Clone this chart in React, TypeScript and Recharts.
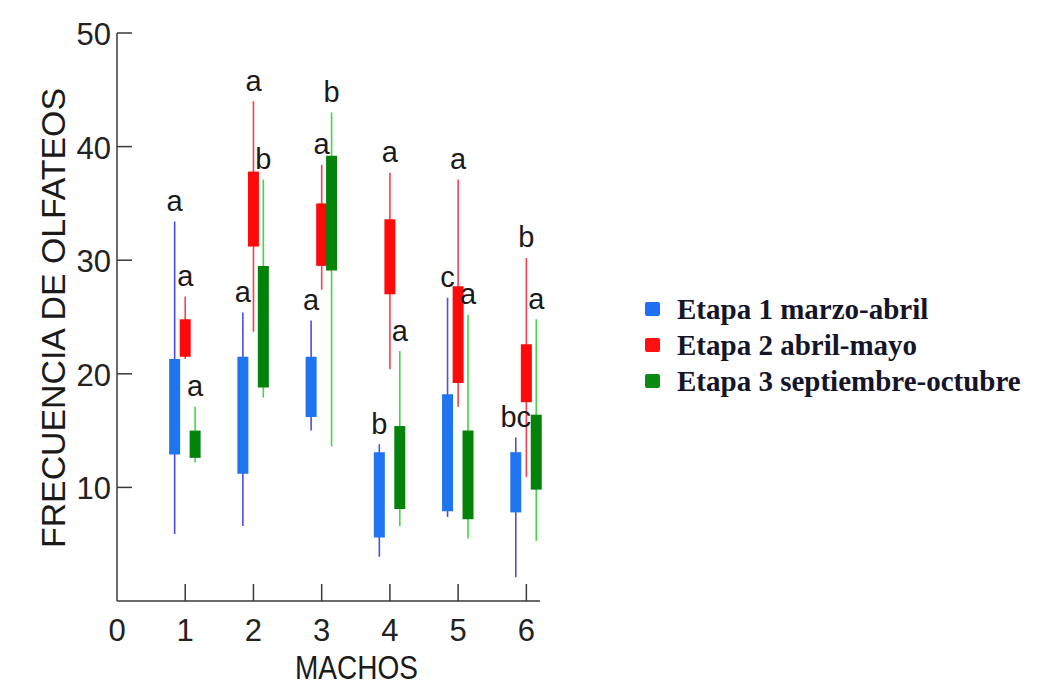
import React from 'react';
import { ScatterChart, Scatter, XAxis, YAxis, ErrorBar, LabelList } from 'recharts';

const MACHOS = [1, 2, 3, 4, 5, 6];
const X_TICKS = [0, 1, 2, 3, 4, 5, 6];
const Y_TICKS = [10, 20, 30, 40, 50];

// Etapa 1 marzo-abril
const E1_MIN = [5.9, 6.6, 15.0, 3.9, 7.4, 2.1];
const E1_Q1 = [12.9, 11.2, 16.2, 5.6, 7.9, 7.8];
const E1_Q3 = [21.3, 21.5, 21.5, 13.1, 18.2, 13.1];
const E1_MAX = [33.4, 25.4, 24.7, 13.8, 26.7, 14.4];
const E1_LETTERS = ['a', 'a', 'a', 'b', 'c', 'bc'];

// Etapa 2 abril-mayo
const E2_MIN = [21.3, 23.7, 27.4, 20.4, 17.1, 10.9];
const E2_Q1 = [21.5, 31.2, 29.5, 27.0, 19.2, 17.5];
const E2_Q3 = [24.8, 37.8, 35.0, 33.6, 27.7, 22.6];
const E2_MAX = [26.8, 44.0, 38.4, 37.7, 37.1, 30.2];
const E2_LETTERS = ['a', 'a', 'a', 'a', 'a', 'b'];

// Etapa 3 septiembre-octubre
const E3_MIN = [12.2, 17.9, 13.6, 6.6, 5.5, 5.3];
const E3_Q1 = [12.6, 18.8, 29.1, 8.1, 7.2, 9.8];
const E3_Q3 = [15.0, 29.5, 39.2, 15.4, 15.0, 16.4];
const E3_MAX = [17.1, 37.1, 43.0, 22.0, 25.2, 24.8];
const E3_LETTERS = ['a', 'b', 'b', 'a', 'a', 'a'];

const SERIES = [
  { name: 'Etapa 1 marzo-abril', min: E1_MIN, q1: E1_Q1, q3: E1_Q3, max: E1_MAX, letters: E1_LETTERS, shift: -0.155, box: '#1f74f0', whisker: '#4b4bf2', legend: '#1f6ff5' },
  { name: 'Etapa 2 abril-mayo', min: E2_MIN, q1: E2_Q1, q3: E2_Q3, max: E2_MAX, letters: E2_LETTERS, shift: 0, box: '#ff0a0a', whisker: '#ff3b4e', legend: '#ff1010' },
  { name: 'Etapa 3 septiembre-octubre', min: E3_MIN, q1: E3_Q1, q3: E3_Q3, max: E3_MAX, letters: E3_LETTERS, shift: 0.145, box: '#04830a', whisker: '#45d645', legend: '#0a8a12' },
];

const SANS = '"Liberation Sans", Arial, sans-serif';
const AXIS = '#3a3a3a';

const Empty = () => <g />;

const YTick = (props: any) => {
  const { x, y, payload } = props;
  return (
    <g>
      <line x1={x} x2={x + 15} y1={y} y2={y} stroke={AXIS} strokeWidth={1.5} />
      <text x={x - 6} y={y + 12} textAnchor="end" fontSize={31} fontFamily={SANS} fill="#222">
        {payload.value}
      </text>
    </g>
  );
};

const XTick = (props: any) => {
  const { x, y, payload } = props;
  return (
    <g>
      {payload.value > 0 && <line x1={x} x2={x} y1={y} y2={y - 17} stroke={AXIS} strokeWidth={1.5} />}
      <text x={x} y={y + 40} textAnchor="middle" fontSize={31} fontFamily={SANS} fill="#222">
        {payload.value}
      </text>
    </g>
  );
};

const YTitle = (props: any) => {
  const vb = props.viewBox || { x: 37, y: 33, width: 80, height: 568 };
  const cx = vb.x + 28;
  const cy = vb.y + vb.height / 2 + 1;
  return (
    <text
      x={cx}
      y={cy}
      transform={`rotate(-90, ${cx}, ${cy})`}
      textAnchor="middle"
      fontSize={34}
      fontFamily={SANS}
      fill="#1a1a1a"
      textLength={460}
      lengthAdjust="spacingAndGlyphs"
    >
      FRECUENCIA DE OLFATEOS
    </text>
  );
};

const XTitle = (props: any) => {
  const vb = props.viewBox || { x: 117, y: 601, width: 423, height: 60 };
  return (
    <text
      x={vb.x + vb.width / 2 + 28}
      y={vb.y + 78}
      textAnchor="middle"
      fontSize={34}
      fontFamily={SANS}
      fill="#1a1a1a"
      textLength={123}
      lengthAdjust="spacingAndGlyphs"
    >
      MACHOS
    </text>
  );
};

const LegendBox = () => (
  <div
    style={{
      position: 'absolute',
      left: 645,
      top: 291,
      fontFamily: '"Liberation Serif", "Times New Roman", serif',
      fontWeight: 'bold',
      fontSize: 29,
      color: '#15152a',
    }}
  >
    {SERIES.map(s => (
      <div key={s.name} style={{ display: 'flex', alignItems: 'center', height: 36 }}>
        <span style={{ display: 'inline-block', width: 15, height: 14, background: s.legend, marginRight: 17, borderRadius: 2 }} />
        <span style={{ whiteSpace: 'nowrap' }}>{s.name}</span>
      </div>
    ))}
  </div>
);

export default function App() {
  return (
    <div style={{ position: 'absolute', left: 0, top: 0, width: 1044, height: 688, background: '#fff', fontFamily: SANS }}>
      <ScatterChart width={1044} height={688} margin={{ top: 33, right: 504, bottom: 27, left: 37 }}>
        <XAxis
          type="number"
          dataKey="x"
          domain={[0, 6.2]}
          ticks={X_TICKS}
          allowDataOverflow
          height={60}
          tickSize={0}
          tickMargin={0}
          tickLine={false}
          tick={<XTick />}
          axisLine={{ stroke: AXIS, strokeWidth: 1.5 }}
          label={<XTitle />}
        />
        <YAxis
          type="number"
          dataKey="y"
          domain={[0, 50]}
          ticks={Y_TICKS}
          allowDataOverflow
          width={80}
          tickSize={0}
          tickMargin={0}
          tickLine={false}
          tick={<YTick />}
          axisLine={{ stroke: AXIS, strokeWidth: 1.5 }}
          label={<YTitle />}
        />
        {SERIES.flatMap((s, si) => {
          const whiskers = MACHOS.map((m, i) => ({
            x: m + s.shift,
            y: s.max[i],
            err: [s.max[i] - s.min[i], 0],
            letter: s.letters[i],
          }));
          const boxes = MACHOS.map((m, i) => ({
            x: m + s.shift,
            y: s.q3[i],
            err: [s.q3[i] - s.q1[i], 0],
          }));
          return [
            <Scatter key={`w${si}`} name={s.name} data={whiskers} shape={<Empty />} isAnimationActive={false} legendType="none">
              <ErrorBar dataKey="err" direction="y" width={0} stroke={s.whisker} strokeWidth={1.6} isAnimationActive={false} />
              <LabelList dataKey="letter" position="top" offset={6} fontSize={29} fontFamily={SANS} fill="#1a1a1a" />
            </Scatter>,
            <Scatter key={`b${si}`} name={`${s.name} caja`} data={boxes} shape={<Empty />} isAnimationActive={false} legendType="none">
              <ErrorBar dataKey="err" direction="y" width={0} stroke={s.box} strokeWidth={11} isAnimationActive={false} />
            </Scatter>,
          ];
        })}
      </ScatterChart>
      <LegendBox />
    </div>
  );
}
